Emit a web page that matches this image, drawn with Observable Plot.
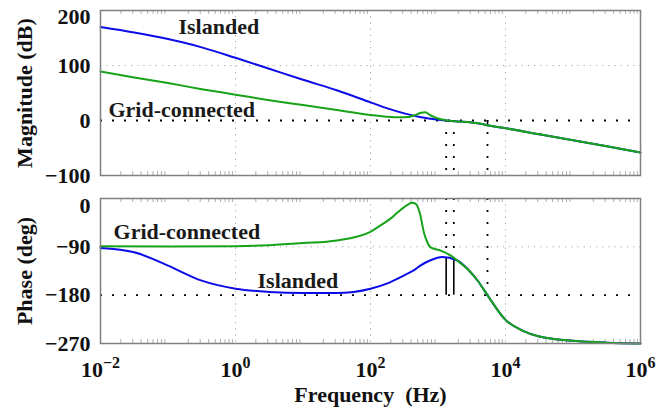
<!DOCTYPE html>
<html><head><meta charset="utf-8">
<script src="https://cdn.jsdelivr.net/npm/d3@7"></script>
<script src="https://cdn.jsdelivr.net/npm/@observablehq/plot@0.6"></script>
<style>
body{margin:0;background:#fff;}
#chart{position:relative;width:670px;height:412px;background:#fff;}
#chart svg{position:absolute;left:0;}
</style></head><body><div id="chart"></div>
<script>
// ---- data ----
const freqTicks = [1e-2, 1, 1e2, 1e4, 1e6];
const gridFreqs = [1, 1e2, 1e4];
const magTicks = [-100, 0, 100, 200];
const phaseTicks = [-270, -180, -90, 0];
const magLabel = "Magnitude (dB)";
const phaseLabel = "Phase (deg)";
const freqLabel = "Frequency\u00a0 (Hz)";

const magIslFreq = [0.01, 0.0316, 0.1, 0.316, 1, 3.16, 10, 31.6, 100, 178, 316, 562, 1000, 1780, 3160, 4270, 5620, 10000, 31600, 100000, 316000, 1000000];
const magIslVal  = [170, 160, 148, 133, 114, 94, 74, 55, 33, 22, 13, 6, 1.5, -1.5, -3.5, -6, -9, -14, -25, -36, -47, -58];

const magGridFreq = [0.01, 0.0316, 0.1, 0.316, 1, 3.16, 10, 31.6, 100, 178, 275, 363, 436, 562, 646, 760, 871, 1000, 1150, 1380, 1780, 3160, 4270, 5620, 10000, 31600, 100000, 316000, 1000000];
const magGridVal  = [89, 78, 68, 57, 47, 37, 28, 19, 10, 7, 6, 6.5, 9, 14, 15, 10, 6.5, 3.5, 2, 0, -1.5, -3.5, -6, -9, -14, -25, -36, -47, -58];

const phIslFreq = [0.01, 0.0316, 0.1, 0.316, 1, 3.16, 10, 31.6, 100, 178, 316, 436, 562, 776, 1150, 1900, 2880, 3980, 5400, 10000, 17800, 31600, 100000, 316000, 1000000];
const phIslVal  = [-92, -100, -125, -153, -168, -174, -176, -176, -168, -158, -143, -134, -124, -115, -109, -115, -134, -155, -180, -226, -246, -257, -265, -268.5, -270];

const phGridFreq = [0.01, 0.1, 1, 3.16, 10, 31.6, 100, 141, 200, 251, 316, 363, 414, 468, 490, 550, 617, 692, 776, 1100, 1530, 1900, 2880, 3980, 5400, 10000, 17800, 31600, 100000, 316000, 1000000];
const phGridVal  = [-89, -89.5, -89, -87, -83, -78, -62, -50, -37, -26, -16, -11, -8, -10, -13, -32, -63, -81, -91, -97, -106, -115, -134, -155, -180, -226, -246, -257, -265, -268.5, -270];

const crossFreqs = [1321, 1714];      // gain crossover frequencies
const crossPhase = [-110, -110];      // phase at crossover
const pcFreq = [5410];                // phase crossover
const pcMag = [-9];                   // magnitude at phase crossover

const topLabelText = ["Islanded", "Grid-connected"];
const topLabelFreq = [0.143, 0.0131];
const topLabelMag  = [158, 5.5];
const botLabelText = ["Grid-connected", "Islanded"];
const botLabelFreq = [0.0156, 2.12];
const botLabelPh   = [-74.5, -166];

// ---- build tables ----
const zip = (xs, ys) => xs.map((x, i) => ({x, y: ys[i]}));
const minorFreqs = [];
for (let e = -2; e < 6; e++) for (let m = 2; m <= 9; m++) minorFreqs.push(m * Math.pow(10, e));

const FONT = "'Liberation Serif', 'Times New Roman', serif";
const BLUE = "#0b0be8";
const GREEN = "#17a317";
const GRIDC = "#a8a8a8";
const style = {fontFamily: FONT, fontSize: "22px", fontWeight: "bold", color: "#111", background: "transparent", overflow: "visible"};

const topPlot = Plot.plot({
  width: 670, height: 190,
  marginLeft: 100, marginRight: 30, marginTop: 10, marginBottom: 15,
  style,
  x: {type: "log", domain: [1e-2, 1e6], axis: null},
  y: {domain: [-100, 200]},
  marks: [
    Plot.ruleX(gridFreqs, {stroke: GRIDC, strokeDasharray: "1.2,5"}),
    Plot.ruleY([100], {stroke: GRIDC, strokeDasharray: "1.2,5"}),
    Plot.ruleX(minorFreqs, {y1: 200, y2: 193, stroke: "#999", strokeWidth: 0.8}),
    Plot.ruleX(minorFreqs, {y1: -100, y2: -93, stroke: "#999", strokeWidth: 0.8}),
    Plot.ruleY([0], {stroke: "#000", strokeDasharray: "2,10", strokeWidth: 1.8}),
    Plot.ruleX(crossFreqs.concat(pcFreq), {y1: 0, y2: -100, stroke: "#000", strokeDasharray: "2,10", strokeWidth: 1.8}),
    Plot.ruleX(zip(pcFreq, pcMag), {x: "x", y1: 0, y2: "y", stroke: "#000", strokeWidth: 1.6}),
    Plot.line(zip(magIslFreq, magIslVal), {x: "x", y: "y", stroke: BLUE, strokeWidth: 2, curve: "monotone-x"}),
    Plot.line(zip(magGridFreq, magGridVal), {x: "x", y: "y", stroke: GREEN, strokeWidth: 2, curve: "monotone-x"}),
    Plot.text(topLabelText.map((t, i) => ({t, x: topLabelFreq[i], y: topLabelMag[i]})),
      {x: "x", y: "y", text: "t", textAnchor: "start", lineAnchor: "bottom", fontSize: 22, fontWeight: "bold", fill: "#1a1a1a"}),
    Plot.frame({stroke: "#808080", strokeWidth: 1.5}),
    Plot.axisY(magTicks.slice(0, 3), {tickSize: 0, tickPadding: 10, label: magLabel, labelAnchor: "center", labelArrow: "none", labelOffset: 84}),
    Plot.axisY(magTicks.slice(3), {tickSize: 0, tickPadding: 10, label: null, dy: 6})
  ]
});
topPlot.style.top = "0px";

const botPlot = Plot.plot({
  width: 670, height: 227,
  marginLeft: 100, marginRight: 30, marginTop: 13, marginBottom: 69,
  style,
  x: {type: "log", domain: [1e-2, 1e6]},
  y: {domain: [-270, 0]},
  marks: [
    Plot.ruleX(gridFreqs, {stroke: GRIDC, strokeDasharray: "1.2,5"}),
    Plot.ruleY([-90], {stroke: GRIDC, strokeDasharray: "1.2,5"}),
    Plot.ruleX(minorFreqs, {y1: 0, y2: -7.5, stroke: "#999", strokeWidth: 0.8}),
    Plot.ruleX(minorFreqs, {y1: -270, y2: -262.5, stroke: "#999", strokeWidth: 0.8}),
    Plot.ruleY([-180], {stroke: "#000", strokeDasharray: "2,10", strokeWidth: 1.8}),
    Plot.ruleX(zip(crossFreqs, crossPhase), {x: "x", y1: 0, y2: "y", stroke: "#000", strokeDasharray: "2,10", strokeWidth: 1.8}),
    Plot.ruleX(pcFreq, {y1: 0, y2: -180, stroke: "#000", strokeDasharray: "2,10", strokeWidth: 1.8}),
    Plot.ruleX(zip(crossFreqs, crossPhase), {x: "x", y1: -180, y2: "y", stroke: "#000", strokeWidth: 1.6}),
    Plot.line(zip(phIslFreq, phIslVal), {x: "x", y: "y", stroke: BLUE, strokeWidth: 2, curve: "monotone-x"}),
    Plot.line(zip(phGridFreq, phGridVal), {x: "x", y: "y", stroke: GREEN, strokeWidth: 2, curve: "monotone-x"}),
    Plot.text(botLabelText.map((t, i) => ({t, x: botLabelFreq[i], y: botLabelPh[i]})),
      {x: "x", y: "y", text: "t", textAnchor: "start", lineAnchor: "bottom", fontSize: 22, fontWeight: "bold", fill: "#1a1a1a"}),
    Plot.frame({stroke: "#808080", strokeWidth: 1.5}),
    Plot.axisY(phaseTicks.slice(0, 3), {tickSize: 0, tickPadding: 10, label: phaseLabel, labelAnchor: "center", labelArrow: "none", labelOffset: 84}),
    Plot.axisY(phaseTicks.slice(3), {tickSize: 0, tickPadding: 10, label: null, dy: 7}),
    Plot.axisX(freqTicks, {tickSize: 0, tickPadding: 18, tickFormat: d => "10^" + Math.round(Math.log10(d)),
      label: freqLabel, labelAnchor: "center", labelArrow: "none", labelOffset: 58})
  ]
});
botPlot.style.top = "185px";

const chart = document.getElementById("chart");
chart.appendChild(topPlot);
chart.appendChild(botPlot);

// superscript exponents on the frequency tick labels
d3.select(botPlot).selectAll('g[aria-label="x-axis tick label"] text').each(function() {
  const s = this.textContent;
  if (!s.includes("^")) return;
  const [base, exp] = s.split("^");
  const el = d3.select(this);
  el.text(null);
  el.append("tspan").text(base);
  el.append("tspan").attr("dy", "-9").attr("font-size", "16px").text(exp.replace("-", "\u2212"));
});
</script>
</body></html>
